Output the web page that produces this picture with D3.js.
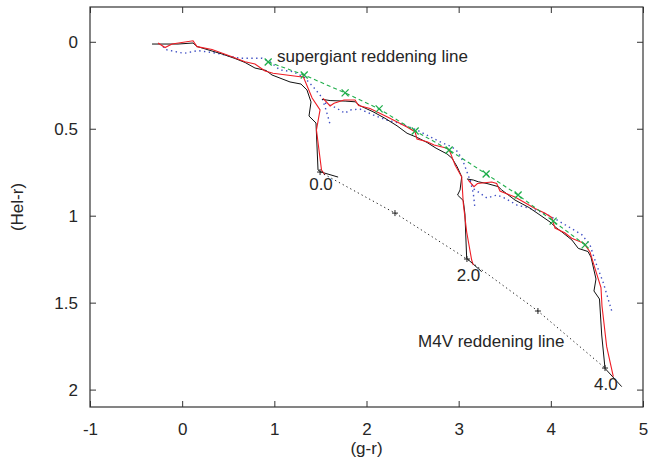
<!DOCTYPE html>
<html>
<head>
<meta charset="utf-8">
<script src="https://cdn.jsdelivr.net/npm/d3@7"></script>
<style>
  body { margin: 0; background: #fff; }
  svg { font-family: "Liberation Sans", Arial, sans-serif; }
</style>
</head>
<body>
<div id="chart"></div>
<script>
// axis ticks
const xTicks = [-1, 0, 1, 2, 3, 4, 5];
const yTicks = [0, 0.5, 1, 1.5, 2];

// model tracks, one per reddening (E = 0.0, 2.0, 4.0) : [g-r, Hel-r]
const blackE0 = [[-0.327,0.013],[-0.045,0.013],[0.118,0.007],[0.161,0.027],[0.324,0.053],[0.432,0.070],[0.573,0.096],[0.682,0.119],[0.790,0.151],[0.910,0.165],[0.975,0.191],[1.170,0.231],[1.289,0.243],[1.354,0.277],[1.398,0.346],[1.376,0.427],[1.452,0.467],[1.474,0.737],[1.507,0.749],[1.692,0.778]];
const blackE2 = [[1.518,0.331],[1.605,0.338],[1.768,0.341],[1.877,0.345],[1.931,0.368],[2.070,0.402],[2.201,0.440],[2.331,0.483],[2.440,0.526],[2.549,0.550],[2.657,0.579],[2.755,0.612],[2.874,0.645],[2.929,0.670],[2.983,0.718],[3.033,0.776],[3.015,0.852],[2.988,0.881],[3.050,0.913],[3.068,0.990],[3.087,1.245],[3.250,1.322]];
const blackE4 = [[3.090,0.789],[3.159,0.795],[3.213,0.805],[3.307,0.815],[3.430,0.833],[3.467,0.852],[3.611,0.910],[3.763,0.953],[3.882,0.996],[3.991,1.036],[4.056,1.068],[4.121,1.094],[4.229,1.140],[4.298,1.188],[4.403,1.206],[4.436,1.238],[4.490,1.364],[4.468,1.433],[4.528,1.479],[4.552,1.686],[4.588,1.878],[4.769,1.983]];

const redE0 = [[-0.262,0.007],[-0.186,0.033],[-0.110,0.013],[0.118,-0.006],[0.161,0.028],[0.324,0.044],[0.541,0.086],[0.682,0.115],[0.790,0.128],[0.899,0.168],[0.986,0.181],[1.279,0.201],[1.311,0.197],[1.410,0.323],[1.496,0.392],[1.457,0.507],[1.512,0.737],[1.550,0.766]];
const redE2 = [[1.529,0.326],[1.605,0.369],[1.648,0.354],[1.756,0.335],[1.876,0.335],[1.914,0.366],[2.038,0.384],[2.222,0.431],[2.439,0.490],[2.526,0.517],[2.548,0.559],[2.657,0.575],[2.733,0.594],[2.874,0.612],[2.906,0.632],[2.961,0.709],[3.033,0.778],[3.050,0.929],[3.087,1.094],[3.141,1.255],[3.159,1.284]];
const redE4 = [[3.104,0.795],[3.166,0.833],[3.204,0.815],[3.358,0.806],[3.412,0.814],[3.448,0.858],[3.611,0.893],[3.828,0.958],[3.937,0.986],[4.009,1.010],[4.045,1.071],[4.154,1.100],[4.226,1.130],[4.360,1.159],[4.425,1.209],[4.468,1.284],[4.544,1.413],[4.555,1.519],[4.606,1.753],[4.678,1.926]];

const blueE0 = [[-0.208,0.027],[-0.186,0.044],[-0.024,0.062],[0.020,0.066],[0.172,0.051],[0.378,0.066],[0.628,0.095],[0.867,0.095],[0.953,0.115],[1.061,0.162],[1.202,0.172],[1.322,0.203],[1.420,0.258],[1.514,0.318],[1.561,0.392],[1.604,0.473]];
const blueE2 = [[1.550,0.352],[1.677,0.382],[1.767,0.411],[1.821,0.392],[1.929,0.387],[2.074,0.421],[2.219,0.450],[2.363,0.469],[2.545,0.507],[2.689,0.546],[2.833,0.584],[2.924,0.603],[2.993,0.634],[3.050,0.690],[3.123,0.795],[3.159,0.871],[3.177,0.958]];
const blueE4 = [[3.123,0.795],[3.166,0.847],[3.307,0.898],[3.416,0.881],[3.503,0.900],[3.633,0.939],[3.720,0.950],[3.850,0.970],[3.969,0.996],[4.078,1.028],[4.186,1.062],[4.338,1.110],[4.425,1.168],[4.490,1.274],[4.570,1.387],[4.664,1.554]];

// reddening lines
const supergiantLine = [[0.933,0.116],[1.324,0.191],[1.768,0.294],[2.137,0.386],[2.528,0.513],[2.897,0.622],[3.298,0.760],[3.645,0.881],[4.025,1.031],[4.372,1.168]];
const m4vLine = [[1.496,0.749],[2.309,0.985],[3.090,1.249],[3.860,1.548],[4.588,1.876]];

// text labels : [text, g-r, Hel-r]
const labels = [
  ["supergiant reddening line", 1.029, 0.116],
  ["M4V reddening line", 2.559, 1.755],
  ["0.0", 1.378, 0.855],
  ["2.0", 2.978, 1.376],
  ["4.0", 4.468, 2.002]
];

const width = 651, height = 462;
const marginLeft = 90, marginRight = 8, marginTop = 7, marginBottom = 55;

const x = d3.scaleLinear().domain([-1, 5]).range([marginLeft, width - marginRight]);
const y = d3.scaleLinear().domain([-0.2, 2.1]).range([marginTop, height - marginBottom]);

const svg = d3.select("#chart").append("svg")
  .attr("width", width)
  .attr("height", height);

const textColor = "#262626";
const fmt = d => String(d);   // plain hyphen for negatives, like the original

// axes with inward ticks (mirrored on top and right)
svg.append("g")
  .attr("transform", `translate(0,${height - marginBottom})`)
  .call(d3.axisBottom(x).tickValues(xTicks).tickSize(-6).tickPadding(16).tickFormat(fmt))
  .call(g => g.select(".domain").remove())
  .call(g => g.selectAll("text").attr("fill", textColor).style("font-size", "17px"));

svg.append("g")
  .attr("transform", `translate(0,${marginTop})`)
  .call(d3.axisTop(x).tickValues(xTicks).tickSize(-6).tickFormat(""))
  .call(g => g.select(".domain").remove());

svg.append("g")
  .attr("transform", `translate(${marginLeft},0)`)
  .call(d3.axisLeft(y).tickValues(yTicks).tickSize(-6).tickPadding(12).tickFormat(fmt))
  .call(g => g.select(".domain").remove())
  .call(g => g.selectAll("text").attr("fill", textColor).style("font-size", "17px"));

svg.append("g")
  .attr("transform", `translate(${width - marginRight},0)`)
  .call(d3.axisRight(y).tickValues(yTicks).tickSize(-6).tickFormat(""))
  .call(g => g.select(".domain").remove());

svg.selectAll(".tick line").attr("stroke", "#333");

// frame
svg.append("rect")
  .attr("x", marginLeft)
  .attr("y", marginTop)
  .attr("width", width - marginLeft - marginRight)
  .attr("height", height - marginTop - marginBottom)
  .attr("fill", "none")
  .attr("stroke", "#333")
  .attr("stroke-width", 1.2);

// axis titles
svg.append("text")
  .attr("x", (x(-1) + x(5)) / 2)
  .attr("y", 454)
  .attr("text-anchor", "middle")
  .attr("fill", textColor)
  .style("font-size", "17px")
  .text("(g-r)");

svg.append("text")
  .attr("transform", `translate(23,${(y(-0.2) + y(2.1)) / 2}) rotate(-90)`)
  .attr("text-anchor", "middle")
  .attr("fill", textColor)
  .style("font-size", "17px")
  .text("(Hel-r)");

const line = d3.line().x(d => x(d[0])).y(d => y(d[1]));

const plot = svg.append("g");

// blue dotted tracks
for (const t of [blueE0, blueE2, blueE4]) {
  plot.append("path").datum(t)
    .attr("fill", "none")
    .attr("stroke", "#3f4fc4")
    .attr("stroke-width", 1.4)
    .attr("stroke-dasharray", "1.4 3.4")
    .attr("d", line);
}

// black tracks
for (const t of [blackE0, blackE2, blackE4]) {
  plot.append("path").datum(t)
    .attr("fill", "none")
    .attr("stroke", "#111")
    .attr("stroke-width", 1)
    .attr("d", line);
}

// red tracks
for (const t of [redE0, redE2, redE4]) {
  plot.append("path").datum(t)
    .attr("fill", "none")
    .attr("stroke", "#ee1c24")
    .attr("stroke-width", 1.1)
    .attr("d", line);
}

// supergiant reddening line (green dashed with x markers)
plot.append("path").datum(supergiantLine)
  .attr("fill", "none")
  .attr("stroke", "#1fae4b")
  .attr("stroke-width", 1.1)
  .attr("stroke-dasharray", "4 3")
  .attr("d", line);

plot.selectAll(".sg").data(supergiantLine).join("path")
  .attr("class", "sg")
  .attr("transform", d => `translate(${x(d[0])},${y(d[1])})`)
  .attr("d", "M-3.5,-3.5L3.5,3.5M-3.5,3.5L3.5,-3.5")
  .attr("stroke", "#1fae4b")
  .attr("stroke-width", 1.3);

// M4V reddening line (black dotted with + markers)
plot.append("path").datum(m4vLine)
  .attr("fill", "none")
  .attr("stroke", "#222")
  .attr("stroke-width", 1)
  .attr("stroke-dasharray", "1.3 3")
  .attr("d", line);

plot.selectAll(".m4").data(m4vLine).join("path")
  .attr("class", "m4")
  .attr("transform", d => `translate(${x(d[0])},${y(d[1])})`)
  .attr("d", "M-3,0L3,0M0,-3L0,3")
  .attr("stroke", "#222")
  .attr("stroke-width", 1);

// labels
svg.selectAll(".lab").data(labels).join("text")
  .attr("class", "lab")
  .attr("x", d => x(d[1]))
  .attr("y", d => y(d[2]))
  .attr("fill", textColor)
  .style("font-size", "17px")
  .text(d => d[0]);
</script>
</body>
</html>
